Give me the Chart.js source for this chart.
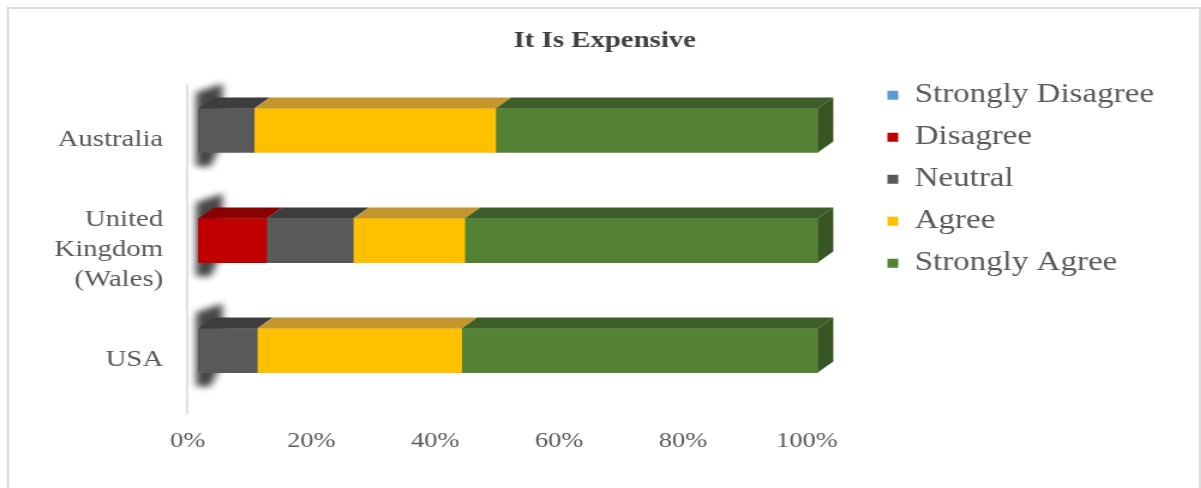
<!DOCTYPE html>
<html>
<head>
<meta charset="utf-8">
<title>It Is Expensive</title>
<script src="https://cdn.jsdelivr.net/npm/chart.js@4.4.1/dist/chart.umd.min.js"></script>
<style>
  html, body { margin: 0; padding: 0; background: #fff; overflow: hidden; }
  #frame {
    position: absolute; left: 7px; top: 7px; width: 1190px; height: 500px;
    border: 2px solid #dcdcdc; border-bottom: none;
  }
  /* chart is laid out narrow and stretched sideways */
  #wrap {
    position: absolute; left: 0; top: 0; width: 1001px; height: 488px;
    transform: scaleX(1.2); transform-origin: 0 0;
  }
</style>
</head>
<body>
<div id="frame"></div>
<div id="wrap"><canvas id="expensiveChart"></canvas></div>
<script>
document.addEventListener('DOMContentLoaded', function () {

    // ==========================
    // DATA
    // ==========================
    const countries = ['Australia', ['United', 'Kingdom', '(Wales)'], 'USA'];
    const stronglyDisagree = [0, 0, 0];
    const disagree = [0, 11, 0];
    const neutral = [9, 14, 9.5];
    const agree = [39, 18, 33];
    const stronglyAgree = [52, 57, 57.5];
    const xTicks = [0, 20, 40, 60, 80, 100];

    const serif = "'Liberation Serif', 'Times New Roman', serif";
    const frontColors = ['#5B9BD5', '#C00000', '#595959', '#FFC000', '#548235'];
    const topColors = ['#3F6E9A', '#8A0000', '#3D3D3D', '#C4962E', '#3C5F27'];
    const sideColor = '#375623';
    const depthX = 13, depthY = 11;

    // ==========================
    // 3D BOX FACES
    // ==========================
    const boxFaces = {
        id: 'boxFaces',
        beforeDatasetsDraw(chart) {
            // soft dark shadow round the left end of each bar
            const ctx = chart.ctx;
            const meta = chart.getDatasetMeta(0);
            meta.data.forEach(bar => {
                const top = bar.y - bar.height / 2, bottom = bar.y + bar.height / 2;
                const x0 = bar.base;
                ctx.save();
                ctx.filter = 'blur(3px)';
                ctx.fillStyle = 'rgba(50,50,50,0.9)';
                ctx.beginPath();
                ctx.moveTo(x0 - 2, top - 16);
                ctx.lineTo(x0 + depthX + 7, top - depthY - 14);
                ctx.lineTo(x0 + depthX + 7, bottom - depthY);
                ctx.lineTo(x0 + 10, bottom + 14);
                ctx.lineTo(x0 - 2, bottom + 14);
                ctx.closePath();
                ctx.fill();
                ctx.restore();
            });
        },
        afterDatasetsDraw(chart) {
            const ctx = chart.ctx;
            const last = chart.data.datasets.length - 1;
            chart.data.datasets.forEach((ds, di) => {
                chart.getDatasetMeta(di).data.forEach(bar => {
                    if (Math.abs(bar.x - bar.base) < 0.5) return;
                    const top = bar.y - bar.height / 2, bottom = bar.y + bar.height / 2;
                    const x0 = Math.min(bar.base, bar.x), x1 = Math.max(bar.base, bar.x);
                    ctx.save();
                    ctx.fillStyle = topColors[di];
                    ctx.beginPath();
                    ctx.moveTo(x0, top);
                    ctx.lineTo(x0 + depthX, top - depthY);
                    ctx.lineTo(x1 + depthX, top - depthY);
                    ctx.lineTo(x1, top);
                    ctx.closePath();
                    ctx.fill();
                    if (di === last) {
                        ctx.fillStyle = sideColor;
                        ctx.beginPath();
                        ctx.moveTo(x1, top);
                        ctx.lineTo(x1 + depthX, top - depthY);
                        ctx.lineTo(x1 + depthX, bottom - depthY);
                        ctx.lineTo(x1, bottom);
                        ctx.closePath();
                        ctx.fill();
                    }
                    ctx.restore();
                });
            });
        },
        afterDraw(chart) {
            // category axis line
            const { ctx, chartArea } = chart;
            ctx.save();
            ctx.strokeStyle = '#d9d9d9';
            ctx.lineWidth = 1.6;
            ctx.beginPath();
            ctx.moveTo(chartArea.left + 1, chartArea.top + 9);
            ctx.lineTo(chartArea.left + 1, chartArea.bottom + 9);
            ctx.stroke();
            ctx.restore();
        }
    };

    // keep the legend a fixed width and pin it beside the bars
    const legendSpot = {
        id: 'legendSpot',
        beforeInit(chart) {
            const lg = chart.legend;
            const fit = lg.fit;
            lg.fit = function () { fit.call(this); this.width = 230; };
        },
        afterLayout(chart) {
            const lg = chart.legend;
            const h = lg.height;
            lg.left = 725; lg.right = 1000;
            lg.top = 67; lg.bottom = lg.top + h;
        }
    };

    const makeSet = (label, data, i) => ({
        label: label,
        data: data,
        backgroundColor: frontColors[i],
        borderWidth: 0,
        inflateAmount: ctx => (ctx.raw ? 'auto' : 0),
        barThickness: 44
    });

    new Chart(document.getElementById('expensiveChart').getContext('2d'), {
        type: 'bar',
        data: {
            labels: countries,
            datasets: [
                makeSet('Strongly Disagree', stronglyDisagree, 0),
                makeSet('Disagree', disagree, 1),
                makeSet('Neutral', neutral, 2),
                makeSet('Agree', agree, 3),
                makeSet('Strongly Agree', stronglyAgree, 4)
            ]
        },
        options: {
            indexAxis: 'y',
            responsive: true,
            maintainAspectRatio: false,
            animation: false,
            layout: { padding: { left: 45, right: 38, top: 0, bottom: 12 } },
            scales: {
                x: {
                    stacked: true,
                    min: -2,
                    max: 110,
                    afterBuildTicks: scale => { scale.ticks = xTicks.map(v => ({ value: v })); },
                    grid: { display: false, drawTicks: false },
                    border: { display: false },
                    ticks: {
                        callback: v => v + '%',
                        autoSkip: false,
                        maxRotation: 0,
                        labelOffset: -9,
                        padding: 22,
                        color: '#595959',
                        font: { family: serif, size: 22 }
                    }
                },
                y: {
                    stacked: true,
                    afterFit: scale => { scale.width = 110; },
                    grid: { display: false, drawTicks: false },
                    border: { display: false },
                    ticks: {
                        labelOffset: 9,
                        padding: 19,
                        color: '#595959',
                        font: { family: serif, size: 24, lineHeight: 1.25 }
                    }
                }
            },
            plugins: {
                title: {
                    display: true,
                    text: 'It Is Expensive',
                    color: '#404040',
                    font: { family: serif, size: 24, weight: 'bold' },
                    padding: { top: 26, bottom: 20.7 }
                },
                legend: {
                    position: 'right',
                    align: 'start',
                    labels: {
                        boxWidth: 9,
                        boxHeight: 9,
                        padding: 14.5,
                        color: '#595959',
                        font: { family: serif, size: 27.5 }
                    }
                },
                tooltip: { enabled: false }
            }
        },
        plugins: [boxFaces, legendSpot]
    });

});
</script>
</body>
</html>
